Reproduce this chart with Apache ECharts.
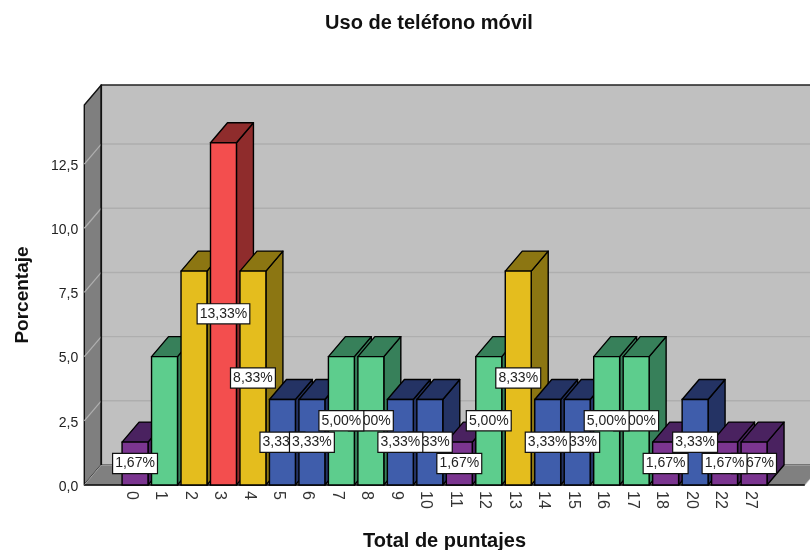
<!DOCTYPE html>
<html><head><meta charset="utf-8">
<style>html,body{margin:0;padding:0;background:#fff}#c{width:810px;height:550px}</style>
<script src="https://cdn.jsdelivr.net/npm/echarts@6/dist/echarts.min.js"></script>
</head><body><div id="c"></div>
<script>
const categories = ['0','1','2','3','4','5','6','7','8','9','10','11','12','13','14','15','16','17','18','20','22','27'];
const percentages = [1.67,5,8.33,13.33,8.33,3.33,3.33,5,5,3.33,3.33,1.67,5,8.33,3.33,3.33,5,5,1.67,3.33,1.67,1.67];
const unlabelled = ['1','2'];
const yTicks = [0,2.5,5,7.5,10,12.5];
const yMax = 14.8;
const frontColors = {1.67:'#7b3590',3.33:'#3f5dab',5:'#5dcd8d',8.33:'#e4bd1e',13.33:'#f34e4e'};
const sideColors  = {1.67:'#4a2260',3.33:'#243364',5:'#37805a',8.33:'#8c7612',13.33:'#8f2c2c'};
const DX = 17, DY = -20, WALL_OUT = 36;
const FONT = '"Liberation Sans", Arial, sans-serif';

function poly(points, fill, stroke, lw){
  return {type:'polygon', shape:{points}, style:{fill, stroke:stroke||'#000', lineWidth:lw==null?1.4:lw, lineJoin:'round'}};
}
function renderWalls(params, api){
  const cs = params.coordSys;
  const l = cs.x - WALL_OUT, r = cs.x + cs.width + WALL_OUT;
  const y0 = api.coord([0,0])[1], yT = api.coord([0,yMax])[1];
  const kids = [
    {type:'rect', shape:{x:l+DX,y:yT+DY,width:r-l,height:y0-yT}, style:{fill:'#c0c0c0',stroke:'#222',lineWidth:1.4}},
    poly([[l,yT],[l+DX,yT+DY],[l+DX,y0+DY],[l,y0]],'#7f7f7f','#111'),
    poly([[l,y0],[l+DX,y0+DY],[r+DX,y0+DY],[r,y0]],'#808080','#bbb',0.8)
  ];
  yTicks.slice(1).forEach(v=>{
    const y = api.coord([0,v])[1];
    kids.push({type:'line',shape:{x1:l+DX,y1:y+DY,x2:r+DX,y2:y+DY},style:{stroke:'#aeaeae',lineWidth:1.4}});
    kids.push({type:'line',shape:{x1:l,y1:y,x2:l+DX,y2:y+DY},style:{stroke:'#b0b0b0',lineWidth:1.2}});
  });
  kids.push({type:'line',shape:{x1:l+DX,y1:yT+DY,x2:l+DX,y2:y0+DY},style:{stroke:'#111',lineWidth:1.6}});
  kids.push({type:'line',shape:{x1:l,y1:y0,x2:r,y2:y0},style:{stroke:'#000',lineWidth:1.6}});
  return {type:'group',children:kids};
}
function renderBar(params, api){
  const v = api.value(1), p = api.coord([api.value(0), v]), b = api.coord([api.value(0), 0]);
  const hw = api.size([1,0])[0]*0.44;
  const L = p[0]-hw, R = p[0]+hw, T = p[1], B = b[1];
  return {type:'group',children:[
    poly([[R,T],[R+DX,T+DY],[R+DX,B+DY],[R,B]],sideColors[v]),
    poly([[L,T],[L+DX,T+DY],[R+DX,T+DY],[R,T]],sideColors[v]),
    {type:'rect',shape:{x:L,y:T,width:R-L,height:B-T},style:{fill:frontColors[v],stroke:'#000',lineWidth:1.4}}
  ]};
}
function renderLabel(params, api){
  const i = params.dataIndex, v = api.value(1);
  if (unlabelled.includes(categories[i])) return null;
  const p = api.coord([api.value(0), v/2]);
  return {type:'text', x:p[0], y:p[1], z2: categories[i]==='5' ? 50 : 100-i,
    style:{text:v.toFixed(2).replace('.',',')+'%', align:'center', verticalAlign:'middle',
      font:'14px '+FONT, fill:'#222', backgroundColor:'#fff', borderColor:'#111', borderWidth:1.2,
      padding:[2,2,3,2]}};
}
const rows = categories.map((c,i)=>[i,percentages[i]]);
const chart = echarts.init(document.getElementById('c'),null,{renderer:'canvas'});
chart.setOption({
  animation:false, backgroundColor:'#fff',
  title:{text:'Uso de teléfono móvil',left:424,top:8,textAlign:'center',
    textStyle:{fontFamily:FONT,fontSize:20,fontWeight:'bold',color:'#111'}},
  grid:{left:120.3,top:105,width:648.5,height:380,outerBoundsMode:'none'},
  xAxis:{type:'category',data:categories,axisLine:{show:false},axisTick:{show:false},
    axisLabel:{rotate:-90,interval:0,margin:6,verticalAlign:'top',lineHeight:8,fontFamily:FONT,fontSize:16,color:'#333'},
    name:'Total de puntajes',nameLocation:'middle',nameGap:46,
    nameTextStyle:{fontFamily:FONT,fontSize:20,fontWeight:'bold',color:'#111'}},
  yAxis:{type:'value',min:0,max:yMax,offset:WALL_OUT,axisLine:{show:false},axisTick:{show:false},splitLine:{show:false},
    axisLabel:{customValues:yTicks,margin:6,verticalAlign:'top',lineHeight:4,fontFamily:FONT,fontSize:14,color:'#222',
      formatter:v=>v.toFixed(1).replace('.',',')},
    name:'Porcentaje',nameLocation:'middle',nameGap:52,
    nameTextStyle:{fontFamily:FONT,fontSize:19,fontWeight:'bold',color:'#111'}},
  series:[
    {type:'custom',z:1,silent:true,data:[[0,0]],renderItem:renderWalls,clip:false},
    {type:'custom',z:2,data:rows,renderItem:renderBar,clip:false,encode:{x:0,y:1}},
    {type:'custom',z:3,data:rows,renderItem:renderLabel,clip:false,encode:{x:0,y:1}}
  ]
});
</script></body></html>
